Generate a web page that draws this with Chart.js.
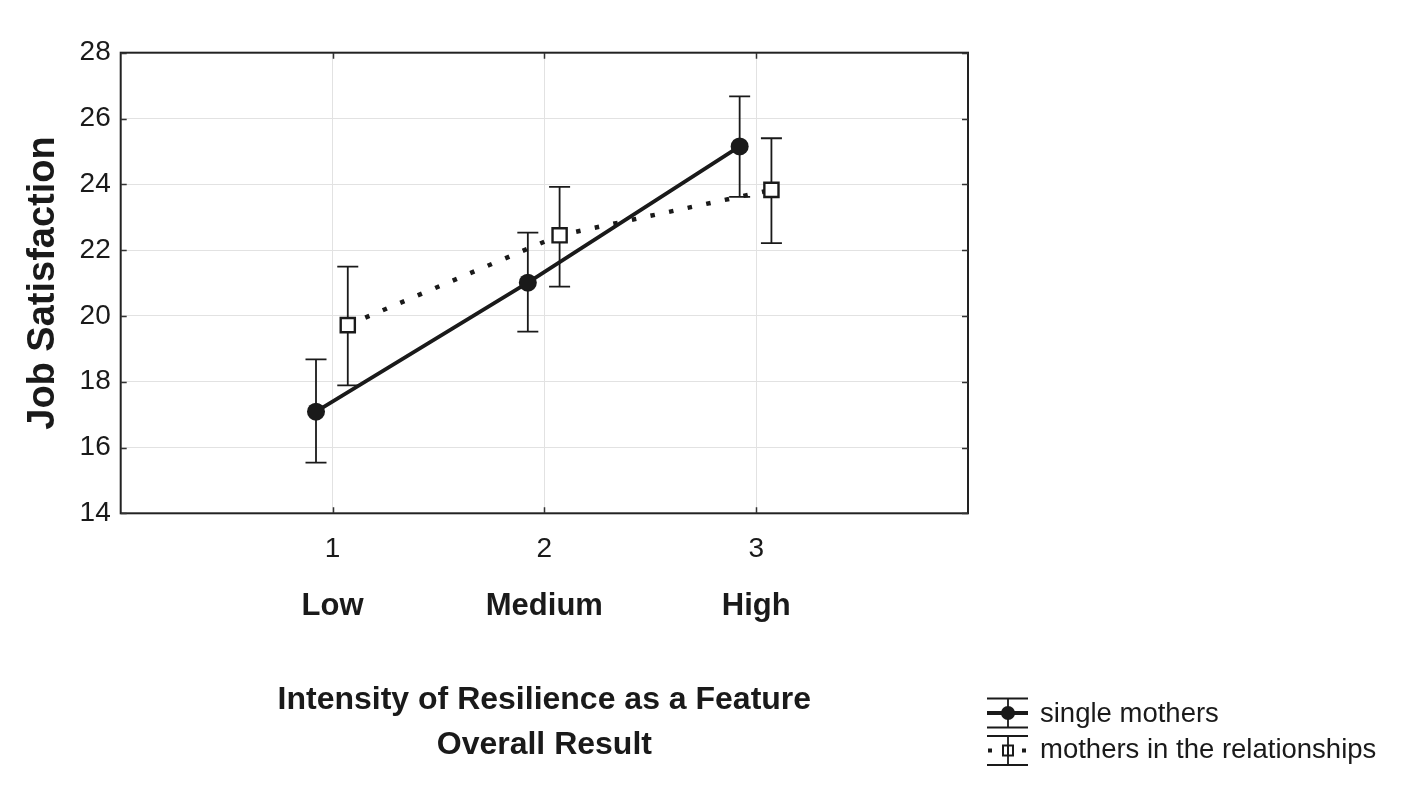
<!DOCTYPE html>
<html><head><meta charset="utf-8">
<script src="https://cdn.jsdelivr.net/npm/chart.js@4.4.0/dist/chart.umd.min.js"></script>
<style>html,body{margin:0;padding:0;background:#fff;} #wrap{width:1404px;height:794px;}</style>
</head><body><div id="wrap"><canvas id="c" width="1404" height="794"></canvas></div>
<script>
// ---- data ----
const categories = [1, 2, 3];
const categoryNames = ['Low', 'Medium', 'High'];
const seriesNames = ['single mothers', 'mothers in the relationships'];
const singleMeans = [17.09, 21.01, 25.15];
const singleLower = [15.54, 19.52, 23.62];
const singleUpper = [18.68, 22.53, 26.67];
const relMeans = [19.72, 22.45, 23.83];
const relLower = [17.89, 20.89, 22.21];
const relUpper = [21.50, 23.92, 25.40];
const yMin = 14, yMax = 28, yStep = 2;
const xMin = 0, xMax = 4;
const axisTitleX = ['Intensity of Resilience as a Feature', 'Overall Result'];
const axisTitleY = 'Job Satisfaction';

// ---- style ----
const singleShift = -0.078, relShift = 0.072;
const FONT = "'Liberation Sans', Arial, sans-serif";
const INK = '#1a1a1a';
const GRID = '#e2e2e2';

const errorBars = {
  id: 'errorBars',
  beforeDatasetsDraw(chart) {
    const ctx = chart.ctx, a = chart.chartArea;
    const xs = chart.scales.x, ys = chart.scales.y;
    ctx.save();
    // frame
    ctx.strokeStyle = '#222'; ctx.lineWidth = 2;
    ctx.strokeRect(a.left, a.top, a.right - a.left, a.bottom - a.top);
    // inward ticks
    ctx.lineWidth = 1.5; ctx.strokeStyle = '#333';
    ctx.beginPath();
    xs.ticks.forEach(t => {
      const px = Math.round(xs.getPixelForValue(t.value)) + 0.5;
      ctx.moveTo(px, a.bottom); ctx.lineTo(px, a.bottom - 6);
      ctx.moveTo(px, a.top); ctx.lineTo(px, a.top + 6);
    });
    ys.ticks.forEach(t => {
      const py = Math.round(ys.getPixelForValue(t.value)) + 0.5;
      ctx.moveTo(a.left, py); ctx.lineTo(a.left + 6, py);
      ctx.moveTo(a.right, py); ctx.lineTo(a.right - 6, py);
    });
    ctx.stroke();
    // error bars
    ctx.strokeStyle = INK; ctx.lineWidth = 1.8;
    chart.data.datasets.forEach((ds, i) => {
      const meta = chart.getDatasetMeta(i);
      meta.data.forEach((pt, j) => {
        const px = pt.x;
        const yl = ys.getPixelForValue(ds.errLow[j]);
        const yh = ys.getPixelForValue(ds.errHigh[j]);
        ctx.beginPath();
        ctx.moveTo(px, yl); ctx.lineTo(px, yh);
        ctx.moveTo(px - 10.5, yl); ctx.lineTo(px + 10.5, yl);
        ctx.moveTo(px - 10.5, yh); ctx.lineTo(px + 10.5, yh);
        ctx.stroke();
      });
    });
    ctx.restore();
  },
  afterDraw(chart) {
    const ctx = chart.ctx;
    ctx.save();
    ctx.strokeStyle = INK; ctx.fillStyle = INK;
    const x0 = 987, x1 = 1028, xc = 1008;
    // entry 1
    let yc = 713;
    ctx.lineWidth = 1.8;
    ctx.beginPath();
    ctx.moveTo(x0, yc - 14.5); ctx.lineTo(x1, yc - 14.5);
    ctx.moveTo(x0, yc + 14.5); ctx.lineTo(x1, yc + 14.5);
    ctx.moveTo(xc, yc - 14.5); ctx.lineTo(xc, yc + 14.5);
    ctx.stroke();
    ctx.lineWidth = 3.8;
    ctx.beginPath(); ctx.moveTo(x0, yc); ctx.lineTo(x1, yc); ctx.stroke();
    ctx.beginPath(); ctx.arc(xc, yc, 7, 0, Math.PI * 2); ctx.fill();
    // entry 2
    yc = 750.5;
    ctx.lineWidth = 1.8;
    ctx.beginPath();
    ctx.moveTo(x0, yc - 14.5); ctx.lineTo(x1, yc - 14.5);
    ctx.moveTo(x0, yc + 14.5); ctx.lineTo(x1, yc + 14.5);
    ctx.moveTo(xc, yc - 14.5); ctx.lineTo(xc, yc + 14.5);
    ctx.stroke();
    ctx.fillRect(988, yc - 2, 4, 4);
    ctx.fillRect(1022, yc - 2, 4, 4);
    ctx.fillStyle = '#fff';
    ctx.fillRect(xc - 5, yc - 5, 10, 10);
    ctx.lineWidth = 2;
    ctx.strokeRect(xc - 5, yc - 5, 10, 10);
    ctx.beginPath(); ctx.moveTo(xc, yc - 5); ctx.lineTo(xc, yc + 5); ctx.stroke();
    // texts
    ctx.fillStyle = INK;
    ctx.font = '27.5px ' + FONT;
    ctx.textBaseline = 'middle'; ctx.textAlign = 'left';
    ctx.fillText(seriesNames[0], 1040, 714);
    ctx.fillText(seriesNames[1], 1040, 750);
    ctx.restore();
  }
};

const singleData = categories.map((c, i) => ({ x: c + singleShift, y: singleMeans[i] }));
const relData = categories.map((c, i) => ({ x: c + relShift, y: relMeans[i] }));

const catTicks = s => { s.ticks = categories.map(v => ({ value: v })); };

new Chart(document.getElementById('c'), {
  type: 'line',
  data: {
    datasets: [
      {
        label: seriesNames[0], data: singleData, errLow: singleLower, errHigh: singleUpper,
        borderColor: INK, borderWidth: 3.8, tension: 0,
        pointStyle: 'circle', pointRadius: 9, pointBackgroundColor: INK, pointBorderColor: INK, pointBorderWidth: 0,
        pointHoverRadius: 9
      },
      {
        label: seriesNames[1], data: relData, errLow: relLower, errHigh: relUpper,
        borderColor: INK, borderWidth: 4.5, borderDash: [4.5, 14.5], borderCapStyle: 'butt', tension: 0,
        pointStyle: 'rect', pointRadius: 10, pointBackgroundColor: '#fff', pointBorderColor: INK, pointBorderWidth: 2.4,
        pointHoverRadius: 10
      }
    ]
  },
  options: {
    responsive: false, animation: false,
    events: [],
    layout: { padding: { left: 0, top: 52.7, right: 436, bottom: 0 } },
    plugins: { legend: { display: false }, tooltip: { enabled: false } },
    scales: {
      x: {
        type: 'linear', min: xMin, max: xMax, position: 'bottom', weight: 0,
        afterBuildTicks: catTicks,
        afterFit: s => { s.height = 55; },
        grid: { color: GRID, lineWidth: 1, drawTicks: false },
        border: { display: false },
        ticks: { padding: 19, color: INK, font: { family: FONT, size: 28 }, autoSkip: false, maxRotation: 0,
          callback: v => String(v) }
      },
      x2: {
        type: 'linear', min: xMin, max: xMax, position: 'bottom', weight: 1,
        afterBuildTicks: catTicks,
        afterFit: s => { s.height = 794 - 513.3 - 55; },
        grid: { display: false, drawTicks: false },
        border: { display: false },
        ticks: { padding: 20, color: INK, font: { family: FONT, size: 31, weight: 'bold' }, autoSkip: false, maxRotation: 0,
          callback: v => categoryNames[categories.indexOf(v)] },
        title: { display: true, text: axisTitleX, color: INK,
          font: { family: FONT, size: 32, weight: 'bold', lineHeight: 1.4 }, padding: { top: 0, bottom: 26.6 } }
      },
      y: {
        type: 'linear', min: yMin, max: yMax,
        afterFit: s => { s.width = 120.7; },
        grid: { color: GRID, lineWidth: 1, drawTicks: false },
        border: { display: false },
        ticks: { stepSize: yStep, padding: 10, color: INK, font: { family: FONT, size: 28 } },
        title: { display: true, text: axisTitleY, color: INK,
          font: { family: FONT, size: 38, weight: 'bold' }, padding: { top: 21, bottom: 0 } }
      }
    }
  },
  plugins: [errorBars]
});
</script>
</body></html>
